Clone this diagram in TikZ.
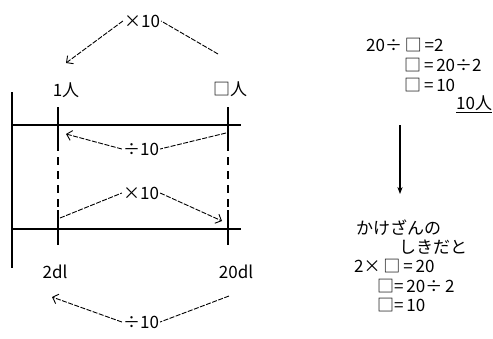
\documentclass[tikz,border=0pt]{standalone}
\usepackage{fontspec}
\setmainfont{Noto Sans CJK JP}
\usetikzlibrary{arrows.meta}
\tikzset{
  lbl/.style   = {font=\fontsize{17}{20}\selectfont, inner sep=1pt},
  eq/.style    = {lbl, anchor=west},
  bar/.style   = {line width=1.2pt},
  guide/.style = {line width=1.2pt, dash pattern=on 8pt off 6pt},
  dline/.style = {line width=0.9pt, dash pattern=on 5pt off 1.5pt},
  darr/.style  = {dline, -{Straight Barb[length=5pt]}},
  down/.style  = {line width=1.2pt, -{Stealth[length=7pt]}},
}

\begin{document}
\begin{tikzpicture}[x=1pt, y=-1pt]
  \useasboundingbox (0,0) rectangle (493,338);

  % number lines
  \coordinate (vt) at (12,92);   \coordinate (vb) at (12,268);
  \draw[bar] (vt) -- (vb);
  \coordinate (ha) at (12,125);  \coordinate (hb) at (241,125);
  \coordinate (hc) at (12,229);  \coordinate (hd) at (241,229);
  \draw[bar] (ha) -- (hb);
  \draw[bar] (hc) -- (hd);

  % ticks and dashed guides
  \foreach \x/\n in {58/l, 228/r} {
    \coordinate (t\n1) at (\x,107); \coordinate (t\n2) at (\x,143);
    \coordinate (t\n3) at (\x,210); \coordinate (t\n4) at (\x,245);
    \draw[bar] (t\n1) -- (t\n2);
    \draw[guide] (t\n2) -- (t\n3);
    \draw[bar] (t\n3) -- (t\n4);
  }

  \node[lbl] (one) at (66,90)  {1人};
  \node[lbl] (box) at (230,89) {□人};
  \node[lbl] (dl2)  at (55,272)  {2dl};
  \node[lbl] (dl20) at (236,272) {20dl};

  % top: x10
  \node[lbl] (x10top) at (142,21) {×10};
  \coordinate (a1) at (218,54);  \coordinate (a2) at (66,63);
  \draw[dline] (a1) -- (x10top.east);
  \draw[darr] (x10top.west) -- (a2);

  % middle: ÷10
  \node[lbl] (d10mid) at (141,149) {÷10};
  \coordinate (b1) at (226,133); \coordinate (b2) at (66,134);
  \draw[dline] (b1) -- (d10mid.east);
  \draw[darr] (d10mid.west) -- (b2);

  % middle: x10
  \node[lbl] (x10mid) at (141,193) {×10};
  \coordinate (c1) at (60,218);  \coordinate (c2) at (222,221);
  \draw[dline] (c1) -- (x10mid.west);
  \draw[darr] (x10mid.east) -- (c2);

  % bottom: ÷10
  \node[lbl] (d10bot) at (141,322) {÷10};
  \coordinate (e1) at (229,296); \coordinate (e2) at (52,297);
  \draw[dline] (e1) -- (d10bot.east);
  \draw[darr] (d10bot.west) -- (e2);

  % right: division
  \node[eq] (q1) at (365,45)  {20÷\,□\,=2};
  \node[eq] (q2) at (403,65)  {□\,=\,20÷2};
  \node[eq] (q3) at (403,85)  {□\,=\,10};
  \node[eq] (q4) at (455,104) {\underline{10人}};

  \coordinate (s1) at (400,125); \coordinate (s2) at (400,194);
  \draw[down] (s1) -- (s2);

  % right: multiplication
  \node[eq] (m1) at (355,228) {かけざんの};
  \node[eq] (m2) at (398,247) {しきだと};
  \node[eq] (m3) at (353,266) {2×\,□\,=\,20};
  \node[eq] (m4) at (376,286) {□=\,20÷\,2};
  \node[eq] (m5) at (376,305) {□=\,10};
\end{tikzpicture}
\end{document}
